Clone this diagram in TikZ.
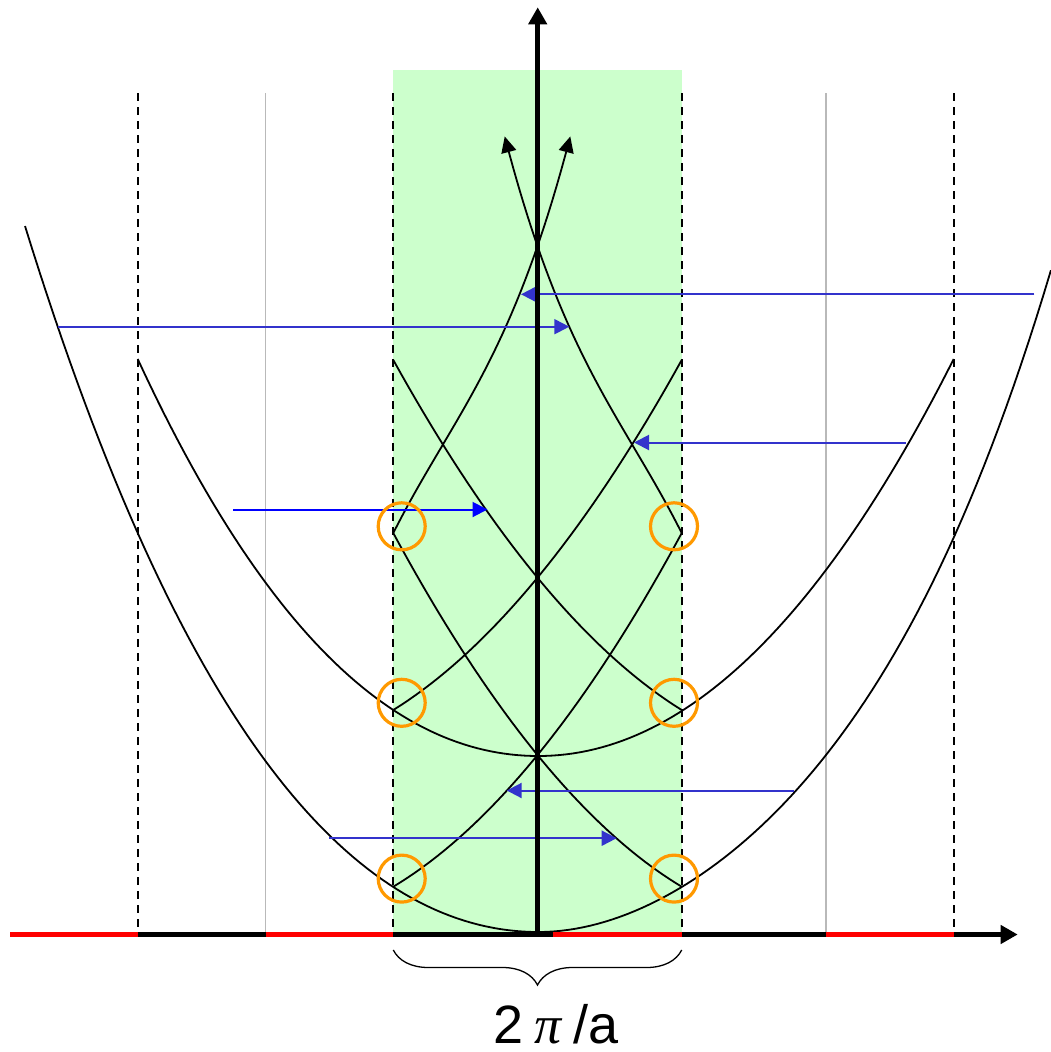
\documentclass[tikz,border=0pt]{standalone}
\usepackage{fontspec}
\setmainfont{Liberation Sans}
\newfontfamily\piserif{Liberation Serif}
\usetikzlibrary{arrows.meta,decorations.pathreplacing}
\definecolor{zonegreen}{RGB}{204,255,204}
\definecolor{arrowblue}{RGB}{51,51,204}
\definecolor{pureblue}{RGB}{0,0,255}
\definecolor{ringorange}{RGB}{255,153,0}
\begin{document}
\begin{tikzpicture}[x=1pt,y=-1pt,
  band/.style={line width=1.8pt, line join=round},
  bandtip/.style={band, -{Triangle[width=15pt,length=16pt]}},
  zonedash/.style={line width=2pt, dash pattern=on 8pt off 6pt},
  zonegray/.style={line width=1.2pt, gray!55},
  shiftarrow/.style={line width=2pt, arrowblue, -{Triangle[width=15pt,length=15pt]}},
  ring/.style={ringorange, line width=3.2pt},
  axisline/.style={line width=5.5pt, line cap=butt},
  axistip/.style={axisline, -{Triangle[width=18pt,length=17pt]}}]
\useasboundingbox (0,0) rectangle (1051,1052);
% first Brillouin zone
\fill[zonegreen] (392.7,70) rectangle (681.7,934);
\foreach \x in {137.7,393.3,681.7,953.7}
  \draw[zonedash] (\x,93.3) -- (\x,934);
\foreach \x in {265.7,826}
  \draw[zonegray] (\x,93.3) -- (\x,934);
% outer parabola
\draw[band] plot[domain=5.133:0,samples=70] ({538.3-100*\x},{932-20.009*\x*\x-0.8195*\x*\x*\x-0.0979*\x*\x*\x*\x})
  -- plot[domain=0:5.127,samples=70] ({538.3+100*\x},{932-24.652*\x*\x+2.7216*\x*\x*\x-0.5511*\x*\x*\x*\x});
% second U curve
\draw[band] plot[domain=4.006:0,samples=60] ({538.3-100*\x},{756-20.256*\x*\x-1.119*\x*\x*\x})
  -- plot[domain=0:4.154,samples=60] ({538.3+100*\x},{756-21.29*\x*\x-0.4133*\x*\x*\x});
% folded bands
\draw[band] plot[domain=0:2.884,samples=40] ({393.3+100*\x},{886.7-60*\x-21.71*\x*\x});
\draw[band] plot[domain=0:2.884,samples=40] ({681.7-100*\x},{886.7-60*\x-21.71*\x*\x});
\draw[bandtip] plot[domain=0:1.77,samples=40] ({681.7-100*\x},{533-198.33*\x+61.68*\x*\x-43.07*\x*\x*\x});
\draw[bandtip] plot[domain=0:1.77,samples=40] ({393.3+100*\x},{533-198.33*\x+61.68*\x*\x-43.07*\x*\x*\x});
\draw[band] plot[domain=0:2.884,samples=40] ({393.3+100*\x},{710-62.18*\x-20.52*\x*\x});
\draw[band] plot[domain=0:2.884,samples=40] ({681.7-100*\x},{710-62.18*\x-20.52*\x*\x});
% translation arrows
\coordinate (s1) at (58,326.7);    \coordinate (e1) at (569.3,326.7);
\coordinate (s2) at (233,509.5);   \coordinate (e2) at (487.5,509.5);
\coordinate (s3) at (1034.3,294.3);\coordinate (e3) at (521,294.3);
\coordinate (s4) at (906,442.5);   \coordinate (e4) at (634,442.5);
\coordinate (s5) at (794.3,790.5); \coordinate (e5) at (506.7,790.5);
\coordinate (s6) at (329.3,838.2); \coordinate (e6) at (616.7,838.2);
\draw[shiftarrow] (s1) -- (e1);
\draw[shiftarrow, pureblue] (s2) -- (e2);
\draw[shiftarrow] (s3) -- (e3);
\draw[shiftarrow] (s4) -- (e4);
\draw[shiftarrow] (s5) -- (e5);
\draw[shiftarrow] (s6) -- (e6);
% gap rings
\foreach \y in {526.3,702.8,878.6} {
  \draw[ring] (401.7,\y) circle[radius=23.5pt];
  \draw[ring] (674,\y) circle[radius=23.5pt];
}
% axes
\draw[axistip] (137.7,934.5) -- (1017.7,934.5);
\foreach \a/\b in {10/137.7, 265.7/393.3, 553.3/681.7, 826/953.7}
  \draw[axisline, red] (\a,934.5) -- (\b,934.5);
\draw[axistip] (537.7,934.5) -- (537.7,7.3);
% brace and label
\draw[line width=1.3pt, decorate, decoration={brace, mirror, amplitude=35pt}] (393.3,950) -- (681.7,950);
\node[anchor=base west, inner sep=0pt, font=\fontsize{54}{60}\selectfont] (period) at (493,1043.5)
  {\raisebox{0pt}[\height][0pt]{2\hspace{11pt}{\piserif\itshape π}\hspace{12pt}/a}};
\end{tikzpicture}
\end{document}
